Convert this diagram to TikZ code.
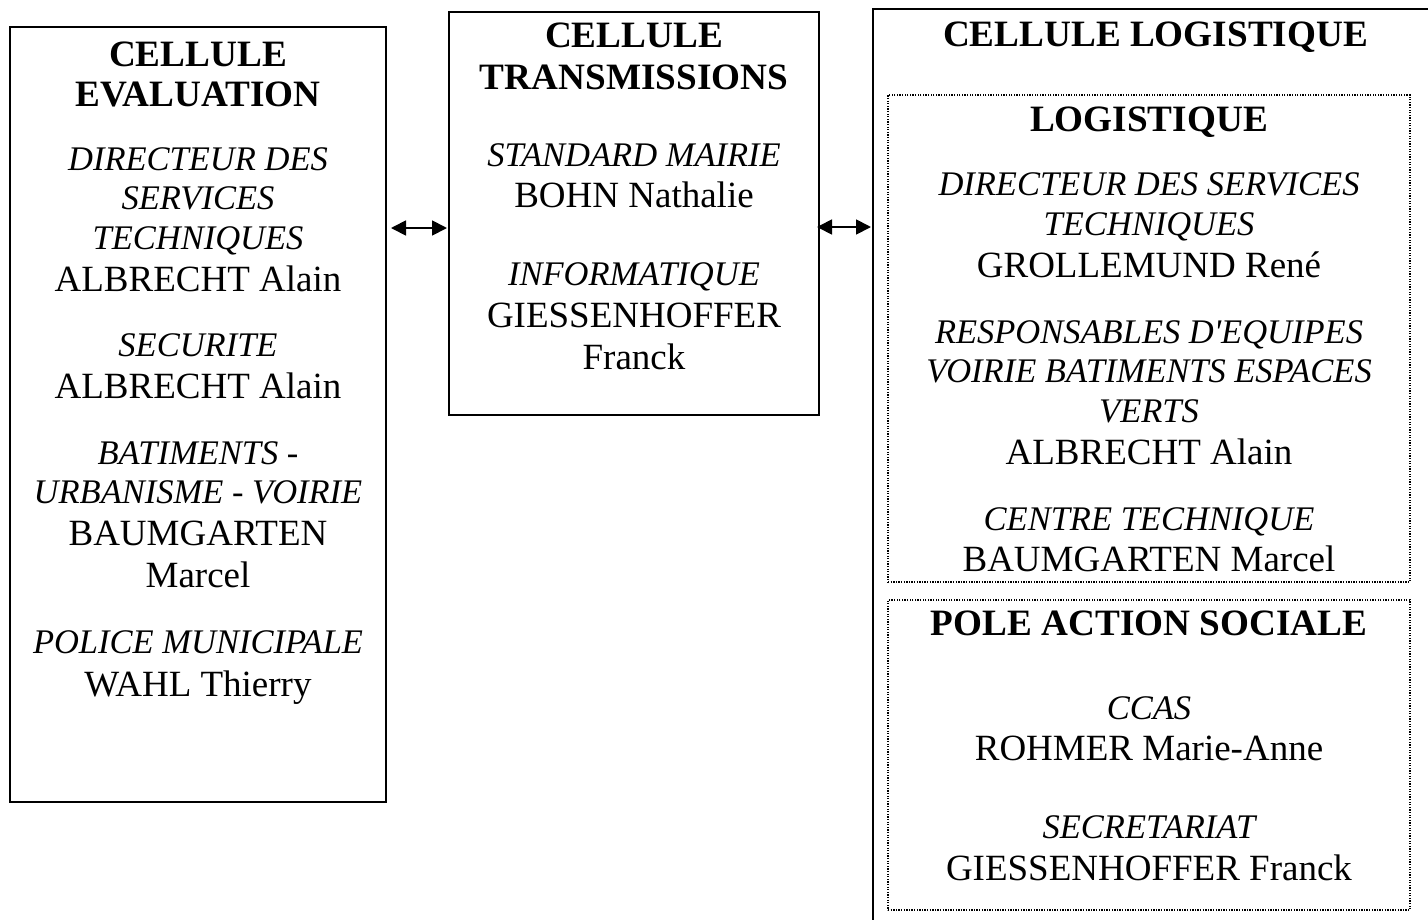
\documentclass[tikz,border=0pt]{standalone}
\usepackage{fontspec}
\setmainfont{Liberation Serif}
\usetikzlibrary{arrows.meta}
\begin{document}
\begin{tikzpicture}[x=1pt,y=-1pt,
  tb/.style={anchor=base,inner sep=0pt,font=\fontsize{37.2}{44}\selectfont\bfseries},
  ti/.style={anchor=base,inner sep=0pt,font=\fontsize{34.5}{40}\selectfont\itshape},
  tn/.style={anchor=base,inner sep=0pt,font=\fontsize{37}{42}\selectfont},
  solidbox/.style={draw,line width=1.6pt,inner sep=0pt,outer sep=0pt},
  dotbox/.style={draw,line width=1.3pt,dash pattern=on 1.3pt off 1.3pt,inner sep=0pt,outer sep=0pt},
  arr/.style={{Triangle[length=15pt,width=15pt]}-{Triangle[length=15pt,width=15pt]},line width=1.8pt}]
\useasboundingbox (0,0) rectangle (1428,919);

% boxes
\node[solidbox,minimum width=376pt,minimum height=775pt] (eval) at (198,414.5) {};
\node[solidbox,minimum width=370pt,minimum height=403pt] (trans) at (634,213.5) {};
\node[solidbox,minimum width=565pt,minimum height=926pt] (logi) at (1155.5,472) {};
\node[dotbox,minimum width=522pt,minimum height=487pt] (logsub) at (1149,338.5) {};
\node[dotbox,minimum width=522pt,minimum height=310pt] (social) at (1149,755) {};

% connectors
\coordinate (ya) at (0,228);
\coordinate (yb) at (0,227);
\draw[arr,shorten <=5pt,shorten >=2pt] (eval.east |- ya) -- (trans.west |- ya);
\draw[arr,shorten <=-2pt,shorten >=2pt] (trans.east |- yb) -- (logi.west |- yb);

% left box text
\node[tb] (e1) at (198,66) {CELLULE};
\node[tb] (e2) at (198,106) {EVALUATION};
\node[ti] (e3) at (198,170) {DIRECTEUR DES};
\node[ti] (e4) at (198,209) {SERVICES};
\node[ti] (e5) at (198,249) {TECHNIQUES};
\node[tn] (e6) at (198,291) {ALBRECHT Alain};
\node[ti] (e7) at (198,356) {SECURITE};
\node[tn] (e8) at (198,398) {ALBRECHT Alain};
\node[ti] (e9) at (198,464) {BATIMENTS -};
\node[ti] (e10) at (198,503) {URBANISME - VOIRIE};
\node[tn] (e11) at (198,545) {BAUMGARTEN};
\node[tn] (e12) at (198,587) {Marcel};
\node[ti] (e13) at (198,653) {POLICE MUNICIPALE};
\node[tn] (e14) at (198,696) {WAHL Thierry};

% middle box text
\node[tb] (t1) at (634,47) {CELLULE};
\node[tb] (t2) at (634,89) {TRANSMISSIONS};
\node[ti] (t3) at (634,166) {STANDARD MAIRIE};
\node[tn] (t4) at (634,207) {BOHN Nathalie};
\node[ti] (t5) at (634,285) {INFORMATIQUE};
\node[tn] (t6) at (634,327) {GIESSENHOFFER};
\node[tn] (t7) at (634,369) {Franck};

% right box text
\node[tb] (l1) at (1155.5,46) {CELLULE LOGISTIQUE};
\node[tb] (l2) at (1149,131) {LOGISTIQUE};
\node[ti] (l3) at (1149,195) {DIRECTEUR DES SERVICES};
\node[ti] (l4) at (1149,235) {TECHNIQUES};
\node[tn] (l5) at (1149,277) {GROLLEMUND René};
\node[ti] (l6) at (1149,343) {RESPONSABLES D\textquotesingle EQUIPES};
\node[ti] (l7) at (1149,382) {VOIRIE BATIMENTS ESPACES};
\node[ti] (l8) at (1149,422) {VERTS};
\node[tn] (l9) at (1149,464) {ALBRECHT Alain};
\node[ti] (l10) at (1149,530) {CENTRE TECHNIQUE};
\node[tn] (l11) at (1149,571) {BAUMGARTEN Marcel};
\node[tb] (l12) at (1149,635) {POLE ACTION SOCIALE};
\node[ti] (l13) at (1149,719) {CCAS};
\node[tn] (l14) at (1149,760) {ROHMER Marie-Anne};
\node[ti] (l15) at (1149,838) {SECRETARIAT};
\node[tn] (l16) at (1149,880) {GIESSENHOFFER Franck};
\end{tikzpicture}
\end{document}
